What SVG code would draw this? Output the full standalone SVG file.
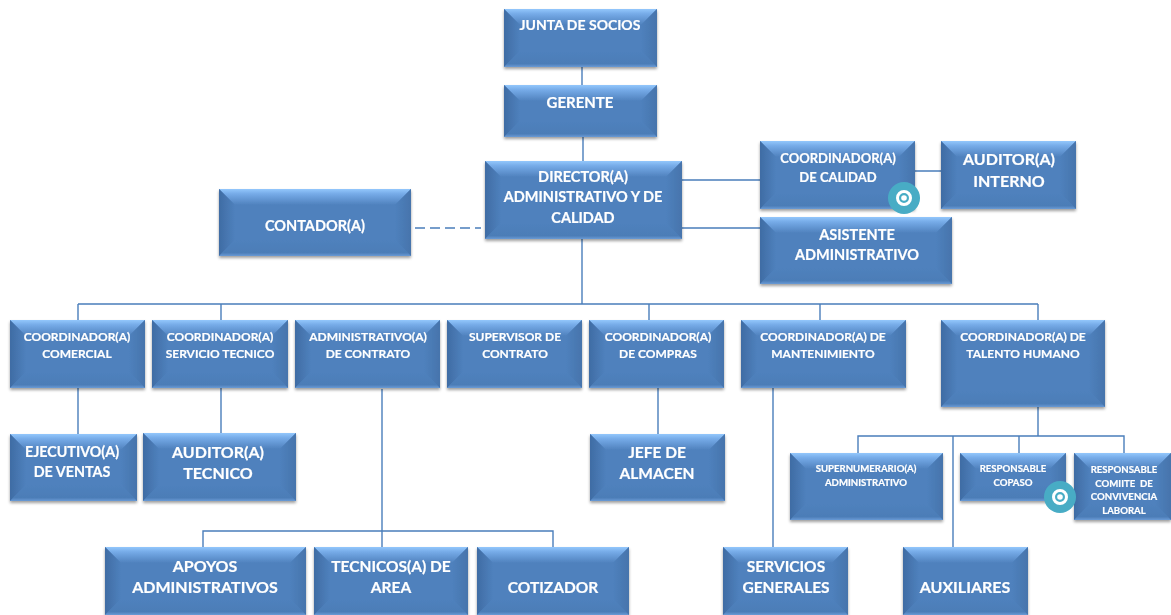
<svg xmlns="http://www.w3.org/2000/svg" width="1171" height="615" viewBox="0 0 1171 615">
<style>
text{font-family:"Lato","Open Sans","Liberation Sans",sans-serif;font-weight:700;fill:#fff;text-anchor:middle;stroke:#fff;stroke-width:.2}
.c{fill:none;stroke:#4a7ebb;stroke-width:1.4}
.b{fill:#4f81bd}.t{fill:url(#gt)}.l{fill:url(#gl)}.r{fill:url(#gr)}.u{fill:url(#gu)}
.n{filter:url(#sh)}
.s10{font-size:9.6px}.s12{font-size:12px}.s13{font-size:13px}.s14{font-size:14.5px}.sj{font-size:14px}.sg{font-size:15px}.s15{font-size:14.3px}.s16{font-size:16px}.s155{font-size:15.5px}
.dot{fill:#48acc5}.ring{fill:none;stroke:#fff;stroke-width:3}.pt{fill:#fff}
</style>
<defs>
<linearGradient id="gt" x1="0" y1="0" x2="0" y2="1"><stop offset="0" stop-color="#93c7fc"/><stop offset=".3" stop-color="#76abe8"/><stop offset="1" stop-color="#4f81bd"/></linearGradient>
<linearGradient id="gl" x1="0" y1="0" x2="1" y2="0"><stop offset="0" stop-color="#3f6ca4"/><stop offset="1" stop-color="#4f81bd"/></linearGradient>
<linearGradient id="gr" x1="0" y1="0" x2="1" y2="0"><stop offset="0" stop-color="#4f81bd"/><stop offset="1" stop-color="#4674ac"/></linearGradient>
<linearGradient id="gu" x1="0" y1="0" x2="0" y2="1"><stop offset="0" stop-color="#4f81bd"/><stop offset=".8" stop-color="#4c7db7"/><stop offset="1" stop-color="#6a9bd6"/></linearGradient>
<filter id="sh" x="-10%" y="-10%" width="120%" height="125%"><feDropShadow dx="0" dy="2" stdDeviation="1.8" flood-color="#000" flood-opacity=".38"/></filter>
</defs>
<g id="connectors">
<path class="c" d="M582 67V85M583 137V161M682 180H760M682 228H760M915 171H941M582 239V304M78 304H1038M78 304V320M221 304V320M649 304V320M820 304V320M1038 304V320M78 388V434M221 388V434M382 389V547M203 547V531H553V547M658 388V434M773 388V547M1038 407V436M858 453V436H1124V453M953 436V547M1019 436V453"/>
<path class="c" d="M415 228H481" stroke-dasharray="10 5"/>
</g>
<g id="n-junta" class="n" transform="translate(504,9)"><rect class="b" width="153" height="58"/><polygon class="t" points="0,0 153,0 137,16 16,16"/><polygon class="l" points="0,0 16,16 16,42 0,58"/><polygon class="r" points="153,0 137,16 137,42 153,58"/><polygon class="u" points="0,58 16,42 137,42 153,58"/><text class="sj" x="76" y="21">JUNTA DE SOCIOS</text></g>
<g id="n-gerente" class="n" transform="translate(504,85)"><rect class="b" width="153" height="52"/><polygon class="t" points="0,0 153,0 137,16 16,16"/><polygon class="l" points="0,0 16,16 16,36 0,52"/><polygon class="r" points="153,0 137,16 137,36 153,52"/><polygon class="u" points="0,52 16,36 137,36 153,52"/><text class="sg" x="76" y="23">GERENTE</text></g>
<g id="n-director" class="n" transform="translate(485,161)"><rect class="b" width="197" height="78"/><polygon class="t" points="0,0 197,0 181,16 16,16"/><polygon class="l" points="0,0 16,16 16,62 0,78"/><polygon class="r" points="197,0 181,16 181,62 197,78"/><polygon class="u" points="0,78 16,62 181,62 197,78"/><text class="s14" x="98" y="21">DIRECTOR(A)</text><text class="s14" x="98" y="41">ADMINISTRATIVO Y DE</text><text class="s14" x="98" y="62">CALIDAD</text></g>
<g id="n-coord-calidad" class="n" transform="translate(760,141)"><rect class="b" width="155" height="68"/><polygon class="t" points="0,0 155,0 139,16 16,16"/><polygon class="l" points="0,0 16,16 16,52 0,68"/><polygon class="r" points="155,0 139,16 139,52 155,68"/><polygon class="u" points="0,68 16,52 139,52 155,68"/><text class="s13" x="78" y="22">COORDINADOR(A)</text><text class="s13" x="78" y="41">DE CALIDAD</text></g>
<g id="n-auditor-interno" class="n" transform="translate(941,141)"><rect class="b" width="135" height="68"/><polygon class="t" points="0,0 135,0 119,16 16,16"/><polygon class="l" points="0,0 16,16 16,52 0,68"/><polygon class="r" points="135,0 119,16 119,52 135,68"/><polygon class="u" points="0,68 16,52 119,52 135,68"/><text class="s16" x="68" y="24">AUDITOR(A)</text><text class="s16" x="68" y="46">INTERNO</text></g>
<g id="n-asistente" class="n" transform="translate(760,217)"><rect class="b" width="192" height="67"/><polygon class="t" points="0,0 192,0 176,16 16,16"/><polygon class="l" points="0,0 16,16 16,51 0,67"/><polygon class="r" points="192,0 176,16 176,51 192,67"/><polygon class="u" points="0,67 16,51 176,51 192,67"/><text class="s14" x="97" y="23">ASISTENTE</text><text class="s14" x="97" y="43">ADMINISTRATIVO</text></g>
<g id="n-contador" class="n" transform="translate(219,189)"><rect class="b" width="192" height="67"/><polygon class="t" points="0,0 192,0 176,16 16,16"/><polygon class="l" points="0,0 16,16 16,51 0,67"/><polygon class="r" points="192,0 176,16 176,51 192,67"/><polygon class="u" points="0,67 16,51 176,51 192,67"/><text class="s14" x="96" y="42">CONTADOR(A)</text></g>
<g id="n-comercial" class="n" transform="translate(10,320)"><rect class="b" width="135" height="68"/><polygon class="t" points="0,0 135,0 119,16 16,16"/><polygon class="l" points="0,0 16,16 16,52 0,68"/><polygon class="r" points="135,0 119,16 119,52 135,68"/><polygon class="u" points="0,68 16,52 119,52 135,68"/><text class="s12" x="67" y="21">COORDINADOR(A)</text><text class="s12" x="67" y="38">COMERCIAL</text></g>
<g id="n-servicio" class="n" transform="translate(152,320)"><rect class="b" width="136" height="68"/><polygon class="t" points="0,0 136,0 120,16 16,16"/><polygon class="l" points="0,0 16,16 16,52 0,68"/><polygon class="r" points="136,0 120,16 120,52 136,68"/><polygon class="u" points="0,68 16,52 120,52 136,68"/><text class="s12" x="68" y="21">COORDINADOR(A)</text><text class="s12" x="68" y="38">SERVICIO TECNICO</text></g>
<g id="n-admin-contrato" class="n" transform="translate(295,320)"><rect class="b" width="145" height="68"/><polygon class="t" points="0,0 145,0 129,16 16,16"/><polygon class="l" points="0,0 16,16 16,52 0,68"/><polygon class="r" points="145,0 129,16 129,52 145,68"/><polygon class="u" points="0,68 16,52 129,52 145,68"/><text class="s12" x="73" y="21">ADMINISTRATIVO(A)</text><text class="s12" x="73" y="38">DE CONTRATO</text></g>
<g id="n-supervisor" class="n" transform="translate(447,320)"><rect class="b" width="135" height="68"/><polygon class="t" points="0,0 135,0 119,16 16,16"/><polygon class="l" points="0,0 16,16 16,52 0,68"/><polygon class="r" points="135,0 119,16 119,52 135,68"/><polygon class="u" points="0,68 16,52 119,52 135,68"/><text class="s12" x="68" y="21">SUPERVISOR DE</text><text class="s12" x="68" y="38">CONTRATO</text></g>
<g id="n-compras" class="n" transform="translate(589,320)"><rect class="b" width="135" height="68"/><polygon class="t" points="0,0 135,0 119,16 16,16"/><polygon class="l" points="0,0 16,16 16,52 0,68"/><polygon class="r" points="135,0 119,16 119,52 135,68"/><polygon class="u" points="0,68 16,52 119,52 135,68"/><text class="s12" x="69" y="21">COORDINADOR(A)</text><text class="s12" x="69" y="38">DE COMPRAS</text></g>
<g id="n-mantenimiento" class="n" transform="translate(741,320)"><rect class="b" width="165" height="68"/><polygon class="t" points="0,0 165,0 149,16 16,16"/><polygon class="l" points="0,0 16,16 16,52 0,68"/><polygon class="r" points="165,0 149,16 149,52 165,68"/><polygon class="u" points="0,68 16,52 149,52 165,68"/><text class="s12" x="82" y="21">COORDINADOR(A) DE</text><text class="s12" x="82" y="38">MANTENIMIENTO</text></g>
<g id="n-talento" class="n" transform="translate(941,320)"><rect class="b" width="164" height="87"/><polygon class="t" points="0,0 164,0 148,16 16,16"/><polygon class="l" points="0,0 16,16 16,71 0,87"/><polygon class="r" points="164,0 148,16 148,71 164,87"/><polygon class="u" points="0,87 16,71 148,71 164,87"/><text class="s12" x="82" y="21">COORDINADOR(A) DE</text><text class="s12" x="82" y="38">TALENTO HUMANO</text></g>
<g id="n-ejecutivo" class="n" transform="translate(10,434)"><rect class="b" width="127" height="67"/><polygon class="t" points="0,0 127,0 111,16 16,16"/><polygon class="l" points="0,0 16,16 16,51 0,67"/><polygon class="r" points="127,0 111,16 111,51 127,67"/><polygon class="u" points="0,67 16,51 111,51 127,67"/><text class="s15" x="62" y="23">EJECUTIVO(A)</text><text class="s15" x="62" y="43">DE VENTAS</text></g>
<g id="n-auditor-tecnico" class="n" transform="translate(143,433)"><rect class="b" width="153" height="68"/><polygon class="t" points="0,0 153,0 137,16 16,16"/><polygon class="l" points="0,0 16,16 16,52 0,68"/><polygon class="r" points="153,0 137,16 137,52 153,68"/><polygon class="u" points="0,68 16,52 137,52 153,68"/><text class="s16" x="75" y="25">AUDITOR(A)</text><text class="s16" x="75" y="46">TECNICO</text></g>
<g id="n-jefe" class="n" transform="translate(590,434)"><rect class="b" width="135" height="67"/><polygon class="t" points="0,0 135,0 119,16 16,16"/><polygon class="l" points="0,0 16,16 16,51 0,67"/><polygon class="r" points="135,0 119,16 119,51 135,67"/><polygon class="u" points="0,67 16,51 119,51 135,67"/><text class="s155" x="67" y="24">JEFE DE</text><text class="s155" x="67" y="45">ALMACEN</text></g>
<g id="n-supernumerario" class="n" transform="translate(790,453)"><rect class="b" width="153" height="67"/><polygon class="t" points="0,0 153,0 137,16 16,16"/><polygon class="l" points="0,0 16,16 16,51 0,67"/><polygon class="r" points="153,0 137,16 137,51 153,67"/><polygon class="u" points="0,67 16,51 137,51 153,67"/><text class="s10" x="76" y="19">SUPERNUMERARIO(A)</text><text class="s10" x="76" y="33">ADMINISTRATIVO</text></g>
<g id="n-copaso" class="n" transform="translate(960,453)"><rect class="b" width="106" height="48"/><polygon class="t" points="0,0 106,0 90,16 16,16"/><polygon class="l" points="0,0 16,16 16,32 0,48"/><polygon class="r" points="106,0 90,16 90,32 106,48"/><polygon class="u" points="0,48 16,32 90,32 106,48"/><text class="s10" x="53" y="19">RESPONSABLE</text><text class="s10" x="53" y="33">COPASO</text></g>
<g id="n-comite" class="n" transform="translate(1074,453)"><rect class="b" width="97" height="67"/><polygon class="t" points="0,0 97,0 81,16 16,16"/><polygon class="l" points="0,0 16,16 16,51 0,67"/><polygon class="r" points="97,0 81,16 81,51 97,67"/><polygon class="u" points="0,67 16,51 81,51 97,67"/><text class="s10" x="50" y="20">RESPONSABLE</text><text class="s10" x="50" y="34" xml:space="preserve">COMIITE  DE</text><text class="s10" x="50" y="47">CONVIVENCIA</text><text class="s10" x="50" y="61">LABORAL</text></g>
<g id="n-apoyos" class="n" transform="translate(105,547)"><rect class="b" width="201" height="68"/><polygon class="t" points="0,0 201,0 185,16 16,16"/><polygon class="l" points="0,0 16,16 16,52 0,68"/><polygon class="r" points="201,0 185,16 185,52 201,68"/><polygon class="u" points="0,68 16,52 185,52 201,68"/><text class="s16" x="100" y="25">APOYOS</text><text class="s16" x="100" y="46">ADMINISTRATIVOS</text></g>
<g id="n-tecnicos" class="n" transform="translate(314,547)"><rect class="b" width="154" height="68"/><polygon class="t" points="0,0 154,0 138,16 16,16"/><polygon class="l" points="0,0 16,16 16,52 0,68"/><polygon class="r" points="154,0 138,16 138,52 154,68"/><polygon class="u" points="0,68 16,52 138,52 154,68"/><text class="s155" x="77" y="25">TECNICOS(A) DE</text><text class="s155" x="77" y="46">AREA</text></g>
<g id="n-cotizador" class="n" transform="translate(477,547)"><rect class="b" width="152" height="68"/><polygon class="t" points="0,0 152,0 136,16 16,16"/><polygon class="l" points="0,0 16,16 16,52 0,68"/><polygon class="r" points="152,0 136,16 136,52 152,68"/><polygon class="u" points="0,68 16,52 136,52 152,68"/><text class="s155" x="76" y="46">COTIZADOR</text></g>
<g id="n-servicios" class="n" transform="translate(723,547)"><rect class="b" width="125" height="68"/><polygon class="t" points="0,0 125,0 109,16 16,16"/><polygon class="l" points="0,0 16,16 16,52 0,68"/><polygon class="r" points="125,0 109,16 109,52 125,68"/><polygon class="u" points="0,68 16,52 109,52 125,68"/><text class="s155" x="63" y="25">SERVICIOS</text><text class="s155" x="63" y="46">GENERALES</text></g>
<g id="n-auxiliares" class="n" transform="translate(903,547)"><rect class="b" width="125" height="68"/><polygon class="t" points="0,0 125,0 109,16 16,16"/><polygon class="l" points="0,0 16,16 16,52 0,68"/><polygon class="r" points="125,0 109,16 109,52 125,68"/><polygon class="u" points="0,68 16,52 109,52 125,68"/><text class="s16" x="62" y="46">AUXILIARES</text></g>
<g id="target-1"><circle class="dot" cx="904" cy="198" r="16"/><circle class="ring" cx="904" cy="198" r="6.5"/><circle class="pt" cx="904" cy="198" r="2.8"/></g>
<g id="target-2"><circle class="dot" cx="1060" cy="497" r="16"/><circle class="ring" cx="1060" cy="497" r="6.5"/><circle class="pt" cx="1060" cy="497" r="2.8"/></g>
</svg>
